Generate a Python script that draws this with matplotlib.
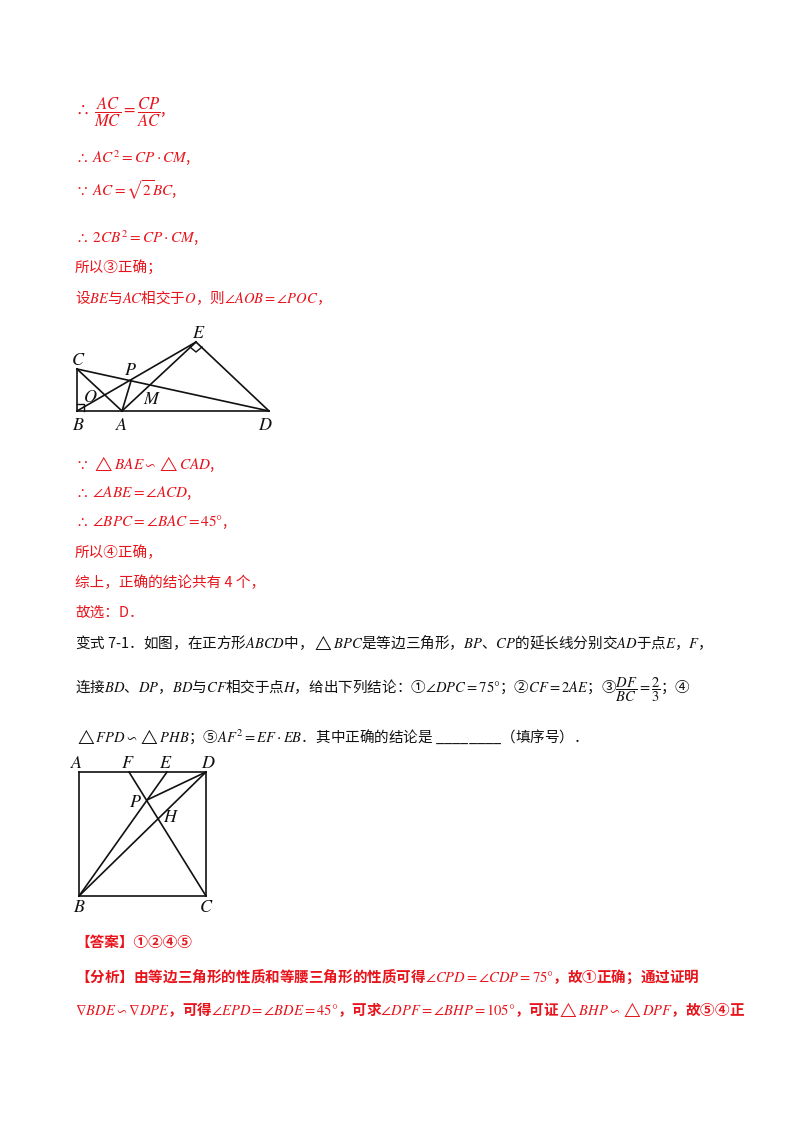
import matplotlib
matplotlib.use("Agg")
import matplotlib.pyplot as plt

plt.rcParams['font.family'] = ['Noto Sans CJK SC', 'DejaVu Sans']
plt.rcParams['mathtext.fontset'] = 'stix'

RED = '#e8141c'
BLK = '#111111'

fig = plt.figure(figsize=(8, 11.32), dpi=100)
ax = fig.add_axes([0, 0, 1, 1])
ax.set_xlim(0, 800); ax.set_ylim(1132, 0); ax.axis('off')

# text lines: (x, y, text, color, size, weight)
lines = [
    (75, 112, r'$\therefore\ \dfrac{AC}{MC}=\dfrac{CP}{AC}$,', RED, 12, 'normal'),
    (75, 158, r'$\therefore\ AC^2=CP\cdot CM$,', RED, 11, 'normal'),
    (75, 190, r'$\because\ AC=\sqrt{2}BC$,', RED, 11, 'normal'),
    (75, 238, r'$\therefore\ 2CB^2=CP\cdot CM$,', RED, 11, 'normal'),
    (75, 268, '所以③正确；', RED, 10.5, 'normal'),
    (75, 298, r'设$BE$与$AC$相交于$O$，则$\angle AOB=\angle POC$，', RED, 10.5, 'normal'),
    (75, 464, r'$\because\ \triangle BAE\backsim\triangle CAD$,', RED, 11, 'normal'),
    (75, 493, r'$\therefore\ \angle ABE=\angle ACD$,', RED, 11, 'normal'),
    (75, 522, r'$\therefore\ \angle BPC=\angle BAC=45\degree$,', RED, 11, 'normal'),
    (75, 553, '所以④正确，', RED, 10.5, 'normal'),
    (75, 583, '综上，正确的结论共有 4 个，', RED, 10.5, 'normal'),
    (75, 613, '故选：D．', RED, 10.5, 'normal'),
    (75, 642, r'变式 7-1．如图，在正方形$ABCD$中，$\triangle BPC$是等边三角形，$BP$、$CP$的延长线分别交$AD$于点$E$，$F$，', BLK, 10.5, 'normal'),
    (75, 690, r'连接$BD$、$DP$，$BD$与$CF$相交于点$H$，给出下列结论：①$\angle DPC=75\degree$；②$CF=2AE$；③$\dfrac{DF}{BC}=\dfrac{2}{3}$；④', BLK, 10.5, 'normal'),
    (75, 737, r'$\triangle FPD\backsim\triangle PHB$；⑤$AF^2=EF\cdot EB$．其中正确的结论是 ________（填序号）．', BLK, 10.5, 'normal'),
    (75, 942, '【答案】①②④⑤', RED, 10.5, 'bold'),
    (75, 977, r'【分析】由等边三角形的性质和等腰三角形的性质可得$\angle CPD=\angle CDP=75\degree$，故①正确；通过证明', RED, 10.5, 'bold'),
    (75, 1010, r'$\nabla BDE\backsim\nabla DPE$，可得$\angle EPD=\angle BDE=45\degree$，可求$\angle DPF=\angle BHP=105\degree$，可证$\triangle BHP\backsim\triangle DPF$，故⑤④正', RED, 10.5, 'bold'),
]
for x, y, t, c, s, w in lines:
    ax.text(x, y, t, color=c, fontsize=s, va='center', ha='left', fontweight=w)

# Figure 1 points
P1 = {'B': (77, 411), 'C': (77, 369), 'A': (122, 411), 'D': (269, 411),
      'E': (196, 342), 'P': (131, 381), 'M': (150, 386), 'O': (95, 395)}
seg1 = [('B', 'C'), ('B', 'D'), ('C', 'D'), ('B', 'E'), ('C', 'A'), ('A', 'E'), ('E', 'D'), ('P', 'A')]
for a, b in seg1:
    ax.plot([P1[a][0], P1[b][0]], [P1[a][1], P1[b][1]], color=BLK, lw=1.2)
ax.plot([77, 84, 84], [404, 404, 411], color=BLK, lw=1)
ax.plot([190, 196, 202], [347, 352, 347], color=BLK, lw=1)
lab1 = {'B': (78, 425), 'C': (78, 360), 'A': (122, 425), 'D': (265, 425),
        'E': (199, 333), 'P': (130, 370), 'M': (152, 399), 'O': (90, 397)}
for k, (x, y) in lab1.items():
    ax.text(x, y, '$' + k + '$', fontsize=13, ha='center', va='center', color=BLK)

# Figure 2 points
P2 = {'A': (79, 772), 'D': (206, 772), 'B': (79, 896), 'C': (206, 896),
      'F': (129, 772), 'E': (167, 772), 'P': (147, 800)}
seg2 = [('A', 'D'), ('D', 'C'), ('C', 'B'), ('B', 'A'), ('B', 'E'), ('C', 'F'), ('B', 'D'), ('D', 'P')]
for a, b in seg2:
    ax.plot([P2[a][0], P2[b][0]], [P2[a][1], P2[b][1]], color=BLK, lw=1.2)
lab2 = {'A': (77, 763), 'F': (128, 763), 'E': (166, 763), 'D': (208, 763),
        'P': (135, 802), 'H': (171, 817), 'B': (79, 907), 'C': (206, 907)}
for k, (x, y) in lab2.items():
    ax.text(x, y, '$' + k + '$', fontsize=13, ha='center', va='center', color=BLK)

fig.savefig('out.png', dpi=100, facecolor='white')
